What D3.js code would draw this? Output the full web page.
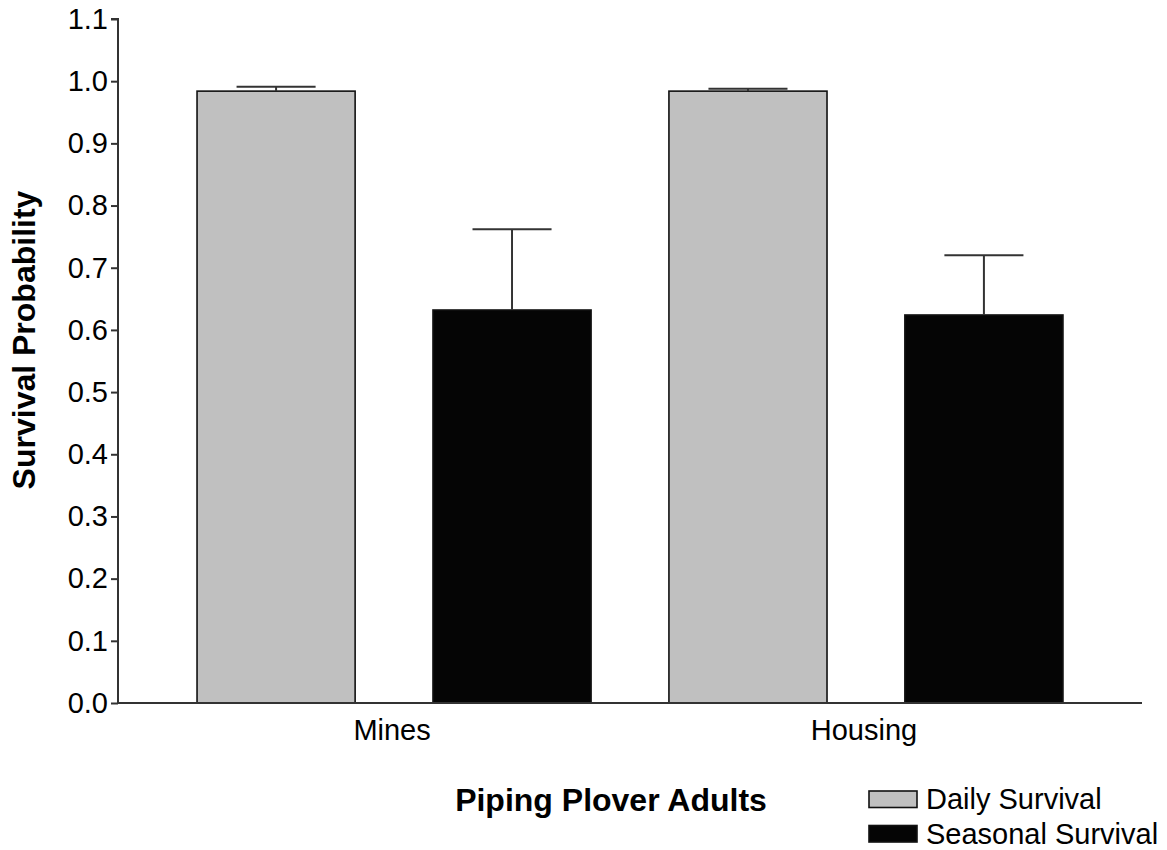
<!DOCTYPE html>
<html>
<head>
<meta charset="utf-8">
<script src="https://cdn.jsdelivr.net/npm/d3@7"></script>
<style>
  html, body { margin: 0; padding: 0; background: #fff; }
  svg { display: block; font-family: "Liberation Sans", Arial, sans-serif; }
</style>
</head>
<body>
<svg id="chart" width="1167" height="850"></svg>
<script>
const categories = ["Mines", "Housing"];
const seriesNames = ["Daily Survival", "Seasonal Survival"];
const dailyValues = [0.984, 0.984];
const seasonalValues = [0.632, 0.624];
const dailyErrors = [0.007, 0.004];
const seasonalErrors = [0.130, 0.096];
const yTicks = [0.0, 0.1, 0.2, 0.3, 0.4, 0.5, 0.6, 0.7, 0.8, 0.9, 1.0, 1.1];
const seriesColors = ["#c0c0c0", "#050505"];

(function () {
const svg = d3.select("#chart");
const mLeft = 118, mRight = 1142, mTop = 19, mBottom = 703;
const FS = 29;

const rows = [];
categories.forEach((c, i) => {
  rows.push({cat: c, series: seriesNames[0], key: c + "|" + seriesNames[0], value: dailyValues[i], err: dailyErrors[i], color: seriesColors[0]});
  rows.push({cat: c, series: seriesNames[1], key: c + "|" + seriesNames[1], value: seasonalValues[i], err: seasonalErrors[i], color: seriesColors[1]});
});

const x = d3.scaleBand().domain(rows.map(d => d.key)).range([mLeft, mRight]).paddingInner(0.33).paddingOuter(0.335);
const y = d3.scaleLinear().domain([0, 1.1]).range([mBottom, mTop]);

// bars
svg.append("g").selectAll("rect").data(rows).join("rect")
  .attr("x", d => x(d.key))
  .attr("y", d => y(d.value))
  .attr("width", x.bandwidth())
  .attr("height", d => y(0) - y(d.value))
  .attr("fill", d => d.color)
  .attr("stroke", "#111")
  .attr("stroke-width", 1.6);

// error bars
const eg = svg.append("g").attr("stroke", "#333").attr("stroke-width", 2);
rows.forEach(d => {
  const cx = x(d.key) + x.bandwidth() / 2;
  const cw = x.bandwidth() / 4;
  eg.append("line").attr("x1", cx).attr("x2", cx).attr("y1", y(d.value)).attr("y2", y(d.value + d.err));
  eg.append("line").attr("x1", cx - cw).attr("x2", cx + cw).attr("y1", y(d.value + d.err)).attr("y2", y(d.value + d.err));
});

// y axis
const yAxis = d3.axisLeft(y).tickValues(yTicks).tickFormat(d3.format(".1f")).tickSize(7).tickPadding(3);
const yg = svg.append("g").attr("transform", `translate(${mLeft},0)`).call(yAxis);
yg.select(".domain").attr("stroke", "#333").attr("stroke-width", 2).attr("d", `M-7,${mTop}H0V${mBottom}`);
yg.selectAll(".tick line").attr("stroke", "#333").attr("stroke-width", 2);
yg.selectAll(".tick text").attr("font-size", FS).attr("fill", "#000").attr("font-family", "Liberation Sans, Arial, sans-serif");

// x axis line
svg.append("line").attr("x1", mLeft).attr("x2", mRight).attr("y1", mBottom).attr("y2", mBottom)
  .attr("stroke", "#333").attr("stroke-width", 2);

// category labels
categories.forEach(c => {
  const a = x(c + "|" + seriesNames[0]);
  const b = x(c + "|" + seriesNames[1]) + x.bandwidth();
  svg.append("text").attr("x", (a + b) / 2 - 2).attr("y", 740)
    .attr("text-anchor", "middle").attr("font-size", FS).attr("fill", "#000").text(c);
});

// y title
svg.append("text").attr("transform", "translate(35,340) rotate(-90)")
  .attr("text-anchor", "middle").attr("font-size", 32).attr("font-weight", "bold").attr("fill", "#000")
  .text("Survival Probability");

// x title
svg.append("text").attr("x", 611).attr("y", 811)
  .attr("text-anchor", "middle").attr("font-size", 32).attr("font-weight", "bold").attr("fill", "#000")
  .text("Piping Plover Adults");

// legend
const lg = svg.append("g");
seriesNames.forEach((s, i) => {
  const yy = 791 + i * 34.5;
  lg.append("rect").attr("x", 869).attr("y", yy).attr("width", 48).attr("height", 16.5)
    .attr("fill", seriesColors[i]).attr("stroke", "#111").attr("stroke-width", 1.6);
  lg.append("text").attr("x", 926).attr("y", yy + 18).attr("font-size", FS).attr("fill", "#000").text(s);
});
})();
</script>
</body>
</html>
